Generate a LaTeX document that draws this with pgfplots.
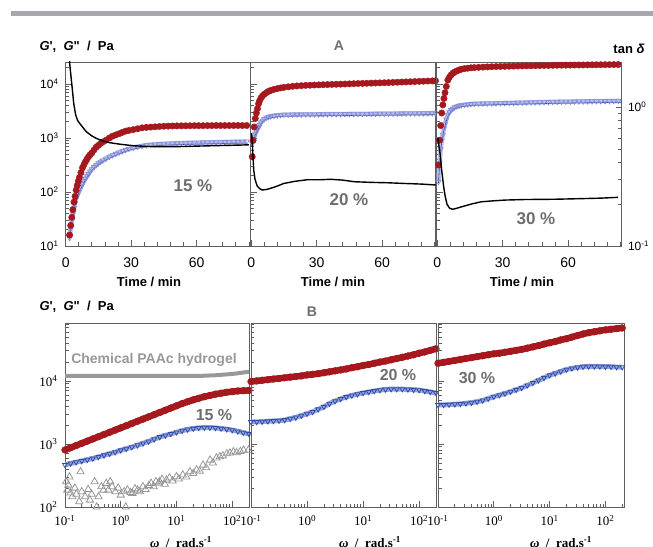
\documentclass[border=0pt]{standalone}
\usepackage{fontspec}
\setmainfont{Liberation Sans}
\newfontfamily\tnr{Liberation Serif}
\usepackage{pgfplots}
\usepackage{pgfplotstable}
\pgfplotsset{compat=1.18}

\definecolor{myred}{RGB}{165,24,30}
\definecolor{lblue}{RGB}{130,140,215}
\definecolor{dblue}{RGB}{55,70,160}
\definecolor{bblue}{RGB}{45,75,175}
\definecolor{mgray}{RGB}{152,152,152}
\definecolor{tgray}{RGB}{110,110,110}
\definecolor{axgray}{RGB}{95,95,95}
\definecolor{barcol}{RGB}{168,168,172}

\pgfplotstableread{
t r b
1.8 16 14
2.3 24 21
2.8 34 29
3.3 47 39
3.8 65 50
4.3 83 62
4.8 108 75
5.3 132 85
5.8 158 96
6.3 186 108
7.0 228 123
7.7 280 140
8.4 322 158
9.1 365 178
9.8 408 196
10.5 450 215
11.2 490 240
12.0 530 265
13.0 600 290
14.0 675 315
15.0 730 340
16.0 790 365
17.0 845 385
18.5 910 415
20.0 1000 450
21.5 1080 480
23.0 1140 510
24.5 1200 540
26.0 1270 570
27.5 1340 600
29.0 1380 630
31 1430 660
33 1480 690
35 1540 715
37 1570 735
39 1590 750
41 1610 762
43 1630 772
45 1650 780
47 1660 788
49 1670 795
51 1675 800
53 1680 805
55 1680 810
57 1685 814
59 1690 818
61 1690 822
63 1690 826
65 1695 830
67 1695 833
69 1700 836
71 1700 840
73 1700 843
75 1700 846
77 1700 850
79 1700 853
81 1700 856
83 1700 860
}\tabA
\pgfplotstableread{
t d
1.5 3.0
1.8 2.1
2.3 1.75
3.1 1.32
3.7 1.06
4.6 0.875
5.5 0.80
6.4 0.764
8.0 0.71
9.5 0.664
12 0.62
14.1 0.595
17 0.57
20.2 0.554
25 0.54
30.9 0.527
38 0.52
46.2 0.518
54 0.52
61.5 0.524
70 0.528
81 0.533
84 0.535
}\tanA
\pgfplotstableread{
t r b
0.5 450 800
0.9 900 920
1.4 1600 1050
1.9 2300 1200
2.4 2900 1330
2.9 3500 1450
3.4 4300 1580
3.9 4900 1750
4.5 5500 1950
5.2 6000 2100
6.0 6450 2250
7.0 6900 2380
8.0 7300 2450
9.0 7600 2520
10.5 7950 2580
12.0 8200 2630
13.5 8450 2670
15.0 8650 2700
17 8850 2710
19 9050 2715
21 9200 2720
23 9300 2725
25 9400 2730
27 9480 2735
29 9550 2740
31 9620 2745
33 9680 2750
35 9750 2755
37 9800 2760
39 9860 2765
41 9920 2770
43 9980 2775
45 10050 2780
47 10120 2785
49 10180 2790
51 10240 2795
53 10300 2800
55 10360 2805
57 10420 2810
59 10480 2815
61 10540 2820
63 10600 2825
65 10680 2830
67 10760 2835
69 10840 2840
71 10920 2845
73 11000 2850
75 11080 2855
77 11160 2860
79 11240 2865
81 11320 2870
83 11400 2875
84.5 11450 2880
}\tabB
\pgfplotstableread{
t d
0.2 0.65
0.5 0.55
0.8 0.45
1.2 0.35
1.8 0.30
2.8 0.27
4.0 0.258
5.1 0.253
7.0 0.255
8.9 0.26
12 0.27
15 0.282
20 0.292
25.8 0.30
31.9 0.30
36.6 0.302
42 0.298
47.3 0.29
55 0.287
63 0.285
70 0.282
78 0.279
84.5 0.275
}\tanB
\pgfplotstableread{
t r b
0.6 316 155
1.1 910 340
1.6 1700 620
2.1 2900 900
2.6 4100 1150
3.1 5400 1500
3.6 6900 1800
4.2 9000 2200
4.9 11800 2700
5.6 13300 3000
6.4 14700 3300
7.2 15800 3500
8.0 16600 3700
9.0 17400 3850
10 18100 3950
11 18700 4030
12.5 19200 4120
14 19600 4200
15.5 19900 4260
17 20100 4300
19 20300 4320
21 20500 4340
23 20700 4360
25 20850 4380
27 21000 4400
29 21100 4420
31 21200 4440
33 21300 4460
35 21400 4480
37 21500 4500
39 21600 4520
41 21650 4540
43 21700 4560
45 21800 4580
47 21900 4600
49 21950 4620
51 22000 4640
53 22100 4660
55 22200 4680
57 22250 4700
59 22300 4710
61 22350 4720
63 22400 4740
65 22450 4760
67 22500 4770
69 22550 4780
71 22600 4800
73 22650 4810
75 22700 4820
77 22750 4830
79 22800 4850
81 22850 4860
83 22900 4870
85 22950 4880
}\tabC
\pgfplotstableread{
t d
0.3 0.6
0.6 0.56
1.0 0.50
1.5 0.44
2.0 0.36
2.6 0.30
3.1 0.26
3.7 0.227
4.5 0.20
5.7 0.187
7.0 0.184
8.0 0.185
10 0.189
12.5 0.194
16 0.201
20.2 0.208
25 0.211
30.9 0.214
40 0.216
53.8 0.217
65 0.219
75 0.221
82.9 0.224
}\tanC
\pgfplotstableread{
w r15 b15 r20 b20 r30 b30 gc
0.1 804 465 9772 2239 19050 4169 12000
0.126 871 490 10000 2239 19720 4169 12000
0.158 944 513 10230 2265 20420 4217 12000
0.2 1023 537 10470 2291 21130 4266 12000
0.251 1109 562 10720 2317 21880 4315 12000
0.316 1202 589 10960 2344 22650 4416 12000
0.398 1303 624 11220 2399 23440 4519 12000
0.501 1413 661 11480 2512 24270 4677 12000
0.631 1531 700 11750 2630 25120 4898 12000
0.794 1660 741 12020 2818 26000 5248 12000
1 1799 794 12450 3020 26920 5623 12000
1.26 1950 841 12740 3236 27540 5957 12000
1.58 2113 891 13030 3548 28510 6310 12000
2 2291 955 13490 3890 29510 6761 12000
2.51 2483 1023 13960 4365 30550 7244 12000
3.16 2692 1096 14450 4786 31620 7762 12000
3.98 2917 1189 14960 5188 33110 8511 12000
5.01 3162 1288 15490 5559 34670 9333 12000
6.31 3428 1365 16220 5888 36310 10230 12000
7.94 3715 1445 16790 6166 38460 11220 12000
10 4027 1531 17580 6457 40270 12300 12000
12.6 4365 1622 18200 6683 42170 13180 12000
15.8 4677 1698 19050 6918 44670 14130 12000
20 5012 1758 19950 7161 46770 15140 12000
25.1 5309 1799 20650 7328 49550 15850 12000
31.6 5623 1820 21630 7413 52480 16410 12100
39.8 5888 1820 22650 7413 55590 16790 12200
50.1 6166 1799 23710 7413 58210 16980 12300
63.1 6383 1758 24830 7328 60260 16980 12500
79.4 6607 1718 26000 7244 62370 16980 12700
100 6761 1660 27540 7161 64570 16790 12900
126 6918 1585 28840 6918 66070 16790 13200
158 6998 1514 30550 6683 67610 16600 13600
200 7079 1445 32360 6457 69180 16600 14000
}\tabBot
\pgfplotstableread{
w g
0.105 252
0.11 186
0.115 223
0.12 300
0.125 167
0.135 146
0.15 200
0.16 160
0.18 122
0.19 363
0.2 175
0.23 146
0.26 190
0.28 129
0.3 160
0.34 252
0.37 100
0.4 146
0.45 210
0.49 186
0.55 238
0.6 186
0.65 252
0.7 210
0.8 175
0.9 200
1.0 155
1.15 175
1.23 100
1.32 186
1.5 170
1.62 165
1.8 195
2.0 186
2.2 175
2.5 210
2.8 190
3.2 220
3.5 238
3.9 210
4.3 252
4.8 240
5.0 252
5.5 275
6.2 230
6.6 268
7.5 290
8.5 260
10 303
11 280
13 322
15 300
17.4 363
20 340
23 387
26 370
30 463
34 420
40 556
45 500
52 600
60 630
68 650
80 700
91 720
105 750
120 730
140 760
160 800
195 800
}\tabGray

\begin{document}
\begin{tikzpicture}
\useasboundingbox (0pt,0pt) rectangle (653pt,546pt);
\fill[barcol] (11pt,530pt) rectangle (653pt,535pt);

% ===== A: 15 % =====
\begin{axis}[ymode=log, at={(65pt,300pt)}, anchor=south west,
  scale only axis, width=185pt, height=184pt,
  ymin=10, ymax=25500, xmin=-0.3, xmax=84.5,
  axis line style={axgray, line width=0.9pt},
  tick style={axgray, line width=0.7pt},
  tick align=inside, major tick length=6pt, minor tick length=3.5pt,
  xtick pos=left, ytick pos=left,
  xtick={0,30,60}, xticklabels={0,30,60},
  minor xtick={6,12,18,24,36,42,48,54,66,72,78,84},
  ytick={10,100,1000,10000},
  yticklabels={10\textsuperscript{1},10\textsuperscript{2},10\textsuperscript{3},10\textsuperscript{4}},
  minor ytick={20,30,40,50,60,70,80,90,200,300,400,500,600,700,800,900,2000,3000,4000,5000,6000,7000,8000,9000,20000},
  x tick label style={font=\fontsize{14}{14}\selectfont, yshift=-8pt},
  y tick label style={font=\fontsize{12}{12}\selectfont, xshift=-3pt}]
\addplot[lblue!55!white, line width=4.5pt, no marks] table[x=t,y=b]{\tabA};
\addplot[dblue, line width=0.6pt, no marks, yshift=-1.5pt] table[x=t,y=b]{\tabA};
\addplot[lblue, only marks, mark=triangle, mark size=3pt, mark options={rotate=180, line width=0.6pt}] table[x=t,y=b]{\tabA};
\addplot[myred, only marks, mark=*, mark size=3.2pt] table[x=t,y=r]{\tabA};
\end{axis}
\begin{axis}[ymode=log, at={(65pt,300pt)}, anchor=south west,
  scale only axis, width=185pt, height=184pt,
  ymin=0.1, ymax=2.11, xmin=-0.3, xmax=84.5, hide axis]
\addplot[black, line width=1.4pt, no marks] table[x=t,y=d]{\tanA};
\end{axis}

% ===== A: 20 % =====
\begin{axis}[ymode=log, at={(250.5pt,300pt)}, anchor=south west,
  scale only axis, width=185pt, height=184pt,
  ymin=10, ymax=25500, xmin=-0.3, xmax=84.5,
  axis line style={axgray, line width=0.9pt},
  tick style={axgray, line width=0.7pt},
  tick align=inside, major tick length=6pt, minor tick length=3.5pt,
  xtick pos=left, ytick pos=left,
  xtick={0,30,60}, xticklabels={0,30,60},
  minor xtick={6,12,18,24,36,42,48,54,66,72,78,84},
  ytick={10,100,1000,10000}, yticklabels={},
  minor ytick={20,30,40,50,60,70,80,90,200,300,400,500,600,700,800,900,2000,3000,4000,5000,6000,7000,8000,9000,20000},
  x tick label style={font=\fontsize{14}{14}\selectfont, yshift=-8pt}]
\addplot[lblue!55!white, line width=4.5pt, no marks] table[x=t,y=b]{\tabB};
\addplot[dblue, line width=0.6pt, no marks, yshift=-1.5pt] table[x=t,y=b]{\tabB};
\addplot[lblue, only marks, mark=triangle, mark size=3pt, mark options={rotate=180, line width=0.6pt}] table[x=t,y=b]{\tabB};
\addplot[myred, only marks, mark=*, mark size=3.2pt] table[x=t,y=r]{\tabB};
\end{axis}
\begin{axis}[ymode=log, at={(250.5pt,300pt)}, anchor=south west,
  scale only axis, width=185pt, height=184pt,
  ymin=0.1, ymax=2.11, xmin=-0.3, xmax=84.5, hide axis]
\addplot[black, line width=1.4pt, no marks] table[x=t,y=d]{\tanB};
\end{axis}

% ===== A: 30 % =====
\begin{axis}[ymode=log, at={(436.5pt,300pt)}, anchor=south west,
  scale only axis, width=185pt, height=184pt,
  ymin=10, ymax=25500, xmin=-0.3, xmax=84.5,
  axis line style={axgray, line width=0.9pt},
  tick style={axgray, line width=0.7pt},
  tick align=inside, major tick length=6pt, minor tick length=3.5pt,
  xtick pos=left, ytick pos=left,
  xtick={0,30,60}, xticklabels={0,30,60},
  minor xtick={6,12,18,24,36,42,48,54,66,72,78,84},
  ytick={10,100,1000,10000}, yticklabels={},
  minor ytick={20,30,40,50,60,70,80,90,200,300,400,500,600,700,800,900,2000,3000,4000,5000,6000,7000,8000,9000,20000},
  x tick label style={font=\fontsize{14}{14}\selectfont, yshift=-8pt}]
\addplot[lblue!55!white, line width=4.5pt, no marks] table[x=t,y=b]{\tabC};
\addplot[dblue, line width=0.6pt, no marks, yshift=-1.5pt] table[x=t,y=b]{\tabC};
\addplot[lblue, only marks, mark=triangle, mark size=3pt, mark options={rotate=180, line width=0.6pt}] table[x=t,y=b]{\tabC};
\addplot[myred, only marks, mark=*, mark size=3.2pt] table[x=t,y=r]{\tabC};
\end{axis}
\begin{axis}[ymode=log, at={(436.5pt,300pt)}, anchor=south west,
  scale only axis, width=185pt, height=184pt,
  ymin=0.1, ymax=2.11, xmin=-0.3, xmax=84.5,
  axis x line=none, axis y line*=right,
  axis line style={axgray, line width=0.9pt},
  tick style={axgray, line width=0.7pt},
  tick align=inside, major tick length=6pt, minor tick length=3.5pt,
  ytick={0.1,1}, yticklabels={10\textsuperscript{-1},10\textsuperscript{0}},
  minor ytick={0.2,0.3,0.4,0.5,0.6,0.7,0.8,0.9,2},
  y tick label style={font=\fontsize{12}{12}\selectfont, xshift=3pt}]
\addplot[black, line width=1.4pt, no marks] table[x=t,y=d]{\tanC};
\end{axis}

% ===== B: 15 % =====
\begin{axis}[xmode=log, ymode=log, at={(65pt,39pt)}, anchor=south west,
  scale only axis, width=184pt, height=184pt,
  xmin=0.1, xmax=200, ymin=100, ymax=83000,
  axis line style={axgray, line width=0.9pt},
  tick style={axgray, line width=0.7pt},
  tick align=inside, major tick length=6pt, minor tick length=3.5pt,
  xtick pos=left, ytick pos=left,
  xtick={0.1,1,10,100},
  xticklabels={10\textsuperscript{-1},10\textsuperscript{0},10\textsuperscript{1},10\textsuperscript{2}},
  minor xtick={0.2,0.3,0.4,0.5,0.6,0.7,0.8,0.9,2,3,4,5,6,7,8,9,20,30,40,50,60,70,80,90,200},
  ytick={100,1000,10000},
  yticklabels={10\textsuperscript{2},10\textsuperscript{3},10\textsuperscript{4}},
  minor ytick={200,300,400,500,600,700,800,900,2000,3000,4000,5000,6000,7000,8000,9000,20000,30000,40000,50000,60000,70000,80000},
  x tick label style={font=\tnr\fontsize{13}{13}\selectfont, yshift=-5pt},
  y tick label style={font=\tnr\fontsize{13}{13}\selectfont, xshift=-4pt}]
\addplot[mgray, only marks, mark=triangle, mark size=4.2pt, mark options={line width=0.8pt}] table[x=w,y=g]{\tabGray};
\addplot[mgray, line width=4pt, no marks] table[x=w,y=gc]{\tabBot};
\addplot[bblue!50!white, line width=5pt, no marks] table[x=w,y=b15]{\tabBot};
\addplot[bblue, only marks, mark=triangle, mark size=2.8pt, mark options={rotate=180, line width=0.8pt}] table[x=w,y=b15]{\tabBot};
\addplot[myred, line width=6.5pt, no marks] table[x=w,y=r15]{\tabBot};
\addplot[myred, only marks, mark=*, mark size=3.4pt] table[x=w,y=r15]{\tabBot};
\end{axis}

% ===== B: 20 % =====
\begin{axis}[xmode=log, ymode=log, at={(251pt,39pt)}, anchor=south west,
  scale only axis, width=185pt, height=184pt,
  xmin=0.1, xmax=200, ymin=100, ymax=83000,
  axis line style={axgray, line width=0.9pt},
  tick style={axgray, line width=0.7pt},
  tick align=inside, major tick length=6pt, minor tick length=3.5pt,
  xtick pos=left, ytick pos=left,
  xtick={0.1,1,10,100},
  xticklabels={10\textsuperscript{-1},10\textsuperscript{0},10\textsuperscript{1},10\textsuperscript{2}},
  minor xtick={0.2,0.3,0.4,0.5,0.6,0.7,0.8,0.9,2,3,4,5,6,7,8,9,20,30,40,50,60,70,80,90,200},
  ytick={100,1000,10000}, yticklabels={},
  minor ytick={200,300,400,500,600,700,800,900,2000,3000,4000,5000,6000,7000,8000,9000,20000,30000,40000,50000,60000,70000,80000},
  x tick label style={font=\tnr\fontsize{13}{13}\selectfont, yshift=-5pt}]
\addplot[bblue!50!white, line width=5pt, no marks] table[x=w,y=b20]{\tabBot};
\addplot[bblue, only marks, mark=triangle, mark size=2.8pt, mark options={rotate=180, line width=0.8pt}] table[x=w,y=b20]{\tabBot};
\addplot[myred, line width=6.5pt, no marks] table[x=w,y=r20]{\tabBot};
\addplot[myred, only marks, mark=*, mark size=3.4pt] table[x=w,y=r20]{\tabBot};
\end{axis}

% ===== B: 30 % =====
\begin{axis}[xmode=log, ymode=log, at={(438pt,39pt)}, anchor=south west,
  scale only axis, width=186pt, height=184pt,
  xmin=0.1, xmax=215, ymin=100, ymax=83000,
  axis line style={axgray, line width=0.9pt},
  tick style={axgray, line width=0.7pt},
  tick align=inside, major tick length=6pt, minor tick length=3.5pt,
  xtick pos=left, ytick pos=left,
  xtick={0.1,1,10,100},
  xticklabels={10\textsuperscript{-1},10\textsuperscript{0},10\textsuperscript{1},10\textsuperscript{2}},
  minor xtick={0.2,0.3,0.4,0.5,0.6,0.7,0.8,0.9,2,3,4,5,6,7,8,9,20,30,40,50,60,70,80,90,200},
  ytick={100,1000,10000}, yticklabels={},
  minor ytick={200,300,400,500,600,700,800,900,2000,3000,4000,5000,6000,7000,8000,9000,20000,30000,40000,50000,60000,70000,80000},
  x tick label style={font=\tnr\fontsize{13}{13}\selectfont, yshift=-5pt}]
\addplot[bblue!50!white, line width=5pt, no marks] table[x=w,y=b30]{\tabBot};
\addplot[bblue, only marks, mark=triangle, mark size=2.8pt, mark options={rotate=180, line width=0.8pt}] table[x=w,y=b30]{\tabBot};
\addplot[myred, line width=6.5pt, no marks] table[x=w,y=r30]{\tabBot};
\addplot[myred, only marks, mark=*, mark size=3.4pt] table[x=w,y=r30]{\tabBot};
\end{axis}

% ===== texts =====
\node[anchor=west, font=\bfseries\fontsize{13}{13}\selectfont] at (36pt,499pt) {\textit{G}\textquotesingle,\ \ \textit{G}\textquotedbl\ \ /\ \ Pa};
\node[anchor=west, font=\bfseries\fontsize{13}{13}\selectfont] at (36pt,239pt) {\textit{G}\textquotesingle,\ \ \textit{G}\textquotedbl\ \ /\ \ Pa};
\node[font=\bfseries\fontsize{14}{14}\selectfont, text=tgray] at (339pt,500pt) {A};
\node[font=\bfseries\fontsize{14}{14}\selectfont, text=tgray] at (312pt,234pt) {B};
\node[font=\bfseries\fontsize{13}{13}\selectfont] at (629pt,497pt) {tan \textit{δ}};
\node[font=\bfseries\fontsize{13}{13}\selectfont] at (149pt,264pt) {Time / min};
\node[font=\bfseries\fontsize{13}{13}\selectfont] at (333pt,264pt) {Time / min};
\node[font=\bfseries\fontsize{13}{13}\selectfont] at (522pt,264pt) {Time / min};
\node[font=\bfseries\fontsize{17}{17}\selectfont, text=tgray] at (193pt,360pt) {15 \%};
\node[font=\bfseries\fontsize{17}{17}\selectfont, text=tgray] at (349pt,346pt) {20 \%};
\node[font=\bfseries\fontsize{17}{17}\selectfont, text=tgray] at (536pt,327pt) {30 \%};
\node[font=\bfseries\fontsize{14}{14}\selectfont, text=mgray] at (154pt,186pt) {Chemical PAAc hydrogel};
\node[font=\bfseries\fontsize{16}{16}\selectfont, text=tgray] at (214pt,131pt) {15 \%};
\node[font=\bfseries\fontsize{16}{16}\selectfont, text=tgray] at (398pt,171pt) {20 \%};
\node[font=\bfseries\fontsize{16}{16}\selectfont, text=tgray] at (477pt,168pt) {30 \%};
\node[font=\tnr\bfseries\fontsize{13}{13}\selectfont] at (181pt,4pt) {\textit{ω}\ \ /\ \ rad.s\textsuperscript{-1}};
\node[font=\tnr\bfseries\fontsize{13}{13}\selectfont] at (370pt,4pt) {\textit{ω}\ \ /\ \ rad.s\textsuperscript{-1}};
\node[font=\tnr\bfseries\fontsize{13}{13}\selectfont] at (561pt,4pt) {\textit{ω}\ \ /\ \ rad.s\textsuperscript{-1}};
\end{tikzpicture}
\end{document}
